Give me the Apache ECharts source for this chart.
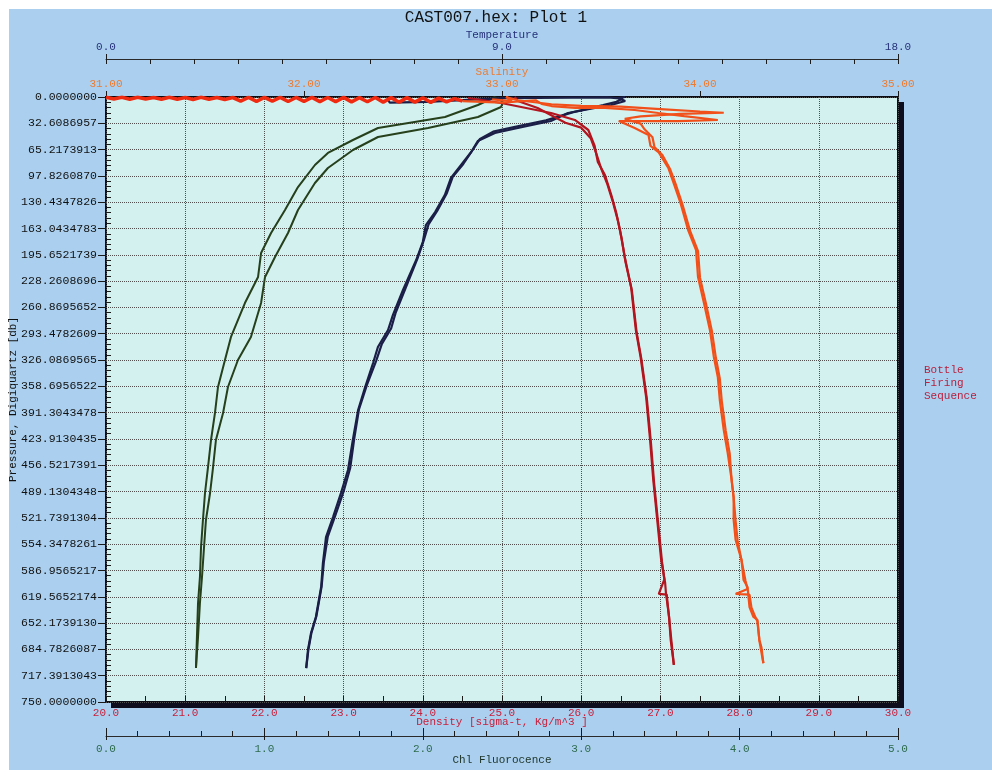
<!DOCTYPE html>
<html>
<head>
<meta charset="utf-8">
<title>CAST007.hex: Plot 1</title>
<script src="https://cdn.jsdelivr.net/npm/echarts@6/dist/echarts.min.js"></script>
<style>
  html, body { margin: 0; padding: 0; background: #ffffff; }
  #main { width: 992px; height: 776px; }
</style>
</head>
<body>
<div id="main"></div>
<script>
// values, pairs are [value, pressure db]
var chlDown = [[2.456,0],[2.348,9.9],[2.140,24.8],[1.717,38.4],[1.559,53.3],[1.401,69.4],[1.319,84.3],[1.212,111.6],[1.130,140.1],[1.042,168.6],[0.979,193.4],[0.960,223.1],[0.877,255.4],[0.789,297.5],[0.751,326.0],[0.707,359.5],[0.688,391.7],[0.663,425.2],[0.644,458.7],[0.625,490.9],[0.612,524.4],[0.600,557.9],[0.593,595.0],[0.581,627.3],[0.574,669.4],[0.568,707.9]];
var chlUp = [[2.456,0],[2.506,6.2],[2.494,12.4],[2.348,24.8],[2.033,38.4],[1.717,49.6],[1.559,65.7],[1.401,88.0],[1.319,106.6],[1.212,140.1],[1.149,168.6],[1.067,198.3],[1.004,223.1],[0.979,255.4],[0.915,297.5],[0.833,326.0],[0.770,359.5],[0.739,391.7],[0.694,425.2],[0.676,458.7],[0.657,490.9],[0.631,524.4],[0.619,557.9],[0.606,595.0],[0.593,627.3],[0.581,669.4],[0.568,707.9]];

var tempDown = [[11.80,0],[11.64,1.2],[11.80,5],[11.48,9.9],[10.50,19.8],[10.11,29.8],[9.36,38.4],[8.84,44.6],[8.45,54.5],[8.30,68.2],[8.07,84.3],[7.84,100.4],[7.70,121.5],[7.48,142.6],[7.27,158.7],[7.20,179.8],[7.05,202.1],[6.75,239.3],[6.52,270.3],[6.41,288.8],[6.18,309.9],[6.07,329.8],[5.89,359.5],[5.73,388.0],[5.61,425.2],[5.50,462.4],[5.34,490.9],[5.16,520.7],[5.00,545.5],[4.93,577.7],[4.89,607.4],[4.77,644.6],[4.66,664.5],[4.59,685.6],[4.55,707.9]];
var tempUp = [[6.6,0.5],[6.4,3],[6.45,7],[7.3,6],[9.0,1.5],[11.4,0.5],[11.75,2],[11.6,6],[11.3,10],[10.6,19],[10.0,29],[9.3,37],[8.8,43],[8.5,52],[8.33,66],[8.12,83],[7.88,99],[7.74,120],[7.53,141],[7.33,158],[7.22,178],[7.08,200],[6.80,238],[6.58,268],[6.48,287],[6.27,306],[6.14,327],[5.93,357],[5.75,387],[5.64,424],[5.55,460],[5.40,489],[5.21,519],[5.04,545],[4.95,577],[4.90,607],[4.78,644],[4.67,664],[4.60,685],[4.55,708]];

var densDown = [[24.57,1.2],[24.99,7.4],[25.62,19.8],[25.92,28.5],[26.09,40.9],[26.17,60.7],[26.21,80.6],[26.30,96.7],[26.38,121.5],[26.44,142.6],[26.49,164.9],[26.55,198.3],[26.63,235.5],[26.69,288.8],[26.75,322.3],[26.82,371.9],[26.87,425.2],[26.91,474.8],[26.96,524.4],[27.01,574.0],[27.06,602.5],[27.07,614.9],[27.11,644.6],[27.13,673.1],[27.17,704.1]];
var densUp = [[25.16,0],[25.20,5],[25.45,13.6],[25.80,32],[26.00,38],[26.12,51],[26.19,70],[26.25,88],[26.33,108],[26.40,130],[26.46,152],[26.51,175],[26.56,205],[26.64,240],[26.70,292],[26.76,325],[26.83,375],[26.88,428],[26.92,478],[26.97,527],[27.02,576],[27.05,598],[26.98,616],[27.08,617],[27.11,646],[27.14,675],[27.17,704]];

// near-surface salinity noise (the red band under the top of the frame)
var salSurface = [[31.00,0.3],[31.04,2.6],[31.08,0.4],[31.12,2.8],[31.16,0.4],[31.20,2.6],[31.24,0.5],[31.28,2.9],[31.32,0.4],[31.36,2.7],[31.40,0.5],[31.44,3.0],[31.48,0.4],[31.52,2.8],[31.56,0.5],[31.60,3.1],[31.64,0.6],[31.68,5.0],[31.72,0.5],[31.76,5.4],[31.80,0.6],[31.84,5.2],[31.88,0.5],[31.92,5.6],[31.96,0.6],[32.00,5.4],[32.04,0.5],[32.08,5.8],[32.12,0.6],[32.16,5.7],[32.20,0.5],[32.24,6.0],[32.28,0.7],[32.32,5.9],[32.36,0.6],[32.40,6.3],[32.44,0.8],[32.48,6.6],[32.52,0.8],[32.56,6.4],[32.60,1.0],[32.64,6.7],[32.68,1.5],[32.72,6.0],[32.76,2.0],[32.80,5.0]];
var salDown = [[32.80,5.0],[33.00,7],[33.17,4],[33.20,8.5],[33.25,11.2],[33.37,13.6],[33.52,13.6],[33.67,16.1],[33.79,19.8],[33.92,23.6],[34.09,28.5],[33.89,29.8],[33.59,29.8],[33.67,38.4],[33.74,47.1],[33.75,60.7],[33.79,68.2],[33.84,88.0],[33.87,109.1],[33.90,130.2],[33.94,164.9],[33.98,189.7],[33.99,223.1],[34.02,255.4],[34.05,288.8],[34.07,322.3],[34.09,347.1],[34.10,375.6],[34.12,412.8],[34.14,441.3],[34.16,474.8],[34.17,495.9],[34.17,524.4],[34.18,549.2],[34.21,574.0],[34.22,598.8],[34.24,607.4],[34.25,632.2],[34.27,644.6],[34.29,648.3],[34.30,673.1],[34.31,681.8],[34.32,701.7]];
var salUp = [[32.95,3],[33.05,5],[33.02,0],[33.08,4],[33.25,9],[33.40,11],[33.60,12],[33.80,15],[34.00,18],[34.12,19.5],[33.90,21],[33.70,24],[33.62,27],[33.70,33],[33.72,40],[33.76,50],[33.77,62],[33.81,72],[33.85,90],[33.88,110],[33.91,132],[33.95,166],[33.99,191],[34.00,224],[34.03,256],[34.06,290],[34.08,323],[34.10,349],[34.11,377],[34.13,414],[34.15,442],[34.16,476],[34.17,497],[34.18,526],[34.19,550],[34.21,575],[34.23,600],[34.24,610],[34.18,616],[34.25,617],[34.26,633],[34.28,645],[34.29,650],[34.30,674],[34.32,702]];

var pressureMax = 750;
var pressureStep = 750 / 23;

var mono = "'Liberation Mono', 'DejaVu Sans Mono', monospace";
var tickLine = { color: '#1a1a1a', width: 1 };

// plot frame, in pixels
var G = { left: 106, top: 97, width: 792, height: 605 };

var myChart = echarts.init(document.getElementById('main'), null, { renderer: 'canvas' });

function line(name, data, xi, color, w) {
  return {
    name: name, type: 'line', xAxisIndex: xi, yAxisIndex: 0,
    data: data, showSymbol: false, symbol: 'none', smooth: false,
    lineStyle: { color: color, width: w }, animation: false
  };
}

myChart.setOption({
  backgroundColor: '#ffffff',
  animation: false,
  title: {
    text: 'CAST007.hex: Plot 1',
    left: 'center', top: 5,
    textStyle: { fontFamily: mono, fontSize: 16, fontWeight: 'normal', color: '#111' }
  },
  graphic: [
    { type: 'rect', z: -10, silent: true, shape: { x: 9, y: 9, width: 983, height: 761 }, style: { fill: '#abd0ef' } },
    // drop shadow of the frame
    { type: 'rect', z: -5, silent: true, shape: { x: G.left + G.width, y: G.top + 5, width: 6, height: G.height + 1 }, style: { fill: '#0d0d1e' } },
    { type: 'rect', z: -5, silent: true, shape: { x: G.left + 5, y: G.top + G.height, width: G.width + 1, height: 6 }, style: { fill: '#0d0d1e' } },
    { type: 'text', left: 924, top: 364, silent: true,
      style: { text: 'Bottle\nFiring\nSequence', fill: '#b8213f', font: '11px ' + mono, lineHeight: 13 } }
  ],
  grid: {
    left: G.left, top: G.top, width: G.width, height: G.height,
    outerBoundsMode: 'none', containLabel: false,
    show: true, backgroundColor: '#d3f1ef',
    borderColor: '#0c0c14', borderWidth: 2
  },
  xAxis: [
    { // density
      type: 'value', position: 'bottom', min: 20, max: 30, interval: 1,
      name: 'Density [sigma-t, Kg/m^3 ]', nameLocation: 'middle', nameGap: 15, nameMoveOverlap: false,
      nameTextStyle: { color: '#c8203c', fontFamily: mono, fontSize: 11 },
      axisLine: { show: false, onZero: false },
      axisTick: { show: true, inside: true, length: 6, lineStyle: tickLine },
      minorTick: { show: true, splitNumber: 2, length: 6, lineStyle: tickLine },
      axisLabel: { color: '#c8203c', fontFamily: mono, fontSize: 11, margin: 6, formatter: function (v) { return v.toFixed(1); } },
      splitLine: { show: true, lineStyle: { color: '#505050', type: 'dotted', width: 1 } }
    },
    { // chl
      type: 'value', position: 'bottom', offset: 34, min: 0, max: 5, interval: 1,
      name: 'Chl Fluorocence', nameLocation: 'middle', nameGap: 19, nameMoveOverlap: false,
      nameTextStyle: { color: '#1d3327', fontFamily: mono, fontSize: 11 },
      axisLine: { show: true, onZero: false, lineStyle: { color: '#2a2a2a', width: 1 } },
      axisTick: { show: true, inside: true, length: 8, lineStyle: tickLine },
      minorTick: { show: true, splitNumber: 5, length: 5, lineStyle: tickLine },
      axisLabel: { color: '#2d6a4c', fontFamily: mono, fontSize: 11, margin: 8, formatter: function (v) { return v.toFixed(1); } },
      splitLine: { show: false }
    },
    { // chl ticks below the line
      type: 'value', position: 'bottom', offset: 34, min: 0, max: 5, interval: 1,
      axisLine: { show: false, onZero: false },
      axisTick: { show: true, inside: false, length: 4, lineStyle: tickLine },
      axisLabel: { show: false }, splitLine: { show: false }
    },
    { // salinity
      type: 'value', position: 'top', min: 31, max: 35, interval: 1,
      name: 'Salinity', nameLocation: 'middle', nameGap: 19, nameMoveOverlap: false,
      nameTextStyle: { color: '#ee7a2e', fontFamily: mono, fontSize: 11 },
      axisLine: { show: false, onZero: false },
      axisTick: { show: true, inside: false, length: 6, lineStyle: tickLine },
      axisLabel: { color: '#ee7a2e', fontFamily: mono, fontSize: 11, margin: 7, formatter: function (v) { return v.toFixed(2); } },
      splitLine: { show: false }
    },
    { // temperature
      type: 'value', position: 'top', offset: 38, min: 0, max: 18, interval: 9,
      name: 'Temperature', nameLocation: 'middle', nameGap: 18, nameMoveOverlap: false,
      nameTextStyle: { color: '#26317a', fontFamily: mono, fontSize: 11 },
      axisLine: { show: true, onZero: false, lineStyle: { color: '#2a2a2a', width: 1 } },
      axisTick: { show: true, inside: false, length: 5, lineStyle: tickLine },
      axisLabel: { color: '#26317a', fontFamily: mono, fontSize: 11, margin: 6, formatter: function (v) { return v.toFixed(1); } },
      splitLine: { show: false }
    },
    { // temperature ticks below the line
      type: 'value', position: 'top', offset: 38, min: 0, max: 18, interval: 1,
      axisLine: { show: false, onZero: false },
      axisTick: { show: true, inside: true, length: 5, lineStyle: tickLine },
      axisLabel: { show: false }, splitLine: { show: false }
    }
  ],
  yAxis: [
    {
      type: 'value', position: 'left', inverse: true,
      min: 0, max: pressureMax, interval: pressureStep,
      name: 'Pressure, Digiquartz [db]', nameLocation: 'middle', nameGap: 87, nameRotate: 90, nameMoveOverlap: false,
      nameTextStyle: { color: '#111', fontFamily: mono, fontSize: 11 },
      axisLine: { show: false, onZero: false },
      axisTick: { show: true, inside: false, length: 8, lineStyle: tickLine },
      axisLabel: { color: '#111', fontFamily: mono, fontSize: 11.5, margin: 9, formatter: function (v) { return v.toFixed(7); } },
      splitLine: { show: true, lineStyle: { color: '#505050', type: 'dotted', width: 1 } }
    },
    { // minor ticks inside the frame: a right axis pulled back onto the left edge
      type: 'value', position: 'right', offset: -G.width, inverse: true,
      min: 0, max: pressureMax, interval: pressureStep,
      axisLine: { show: false, onZero: false },
      axisTick: { show: false },
      minorTick: { show: true, splitNumber: 5, length: 5, lineStyle: tickLine },
      axisLabel: { show: false }, splitLine: { show: false }
    }
  ],
  series: [
    line('Chl down', chlDown, 1, '#25401b', 2),
    line('Chl up', chlUp, 1, '#25401b', 2),
    line('Temp down', tempDown, 4, '#1b1f48', 2.2),
    line('Temp up', tempUp, 4, '#1b1f48', 2.2),
    line('Density down', densDown, 0, '#b3141e', 2.2),
    line('Density up', densUp, 0, '#b3141e', 2.2),
    line('Salinity surface', salSurface, 3, '#f02a10', 3.6),
    line('Salinity down', salDown, 3, '#f2501a', 2.2),
    line('Salinity up', salUp, 3, '#f2501a', 2.2)
  ]
});
</script>
</body>
</html>
